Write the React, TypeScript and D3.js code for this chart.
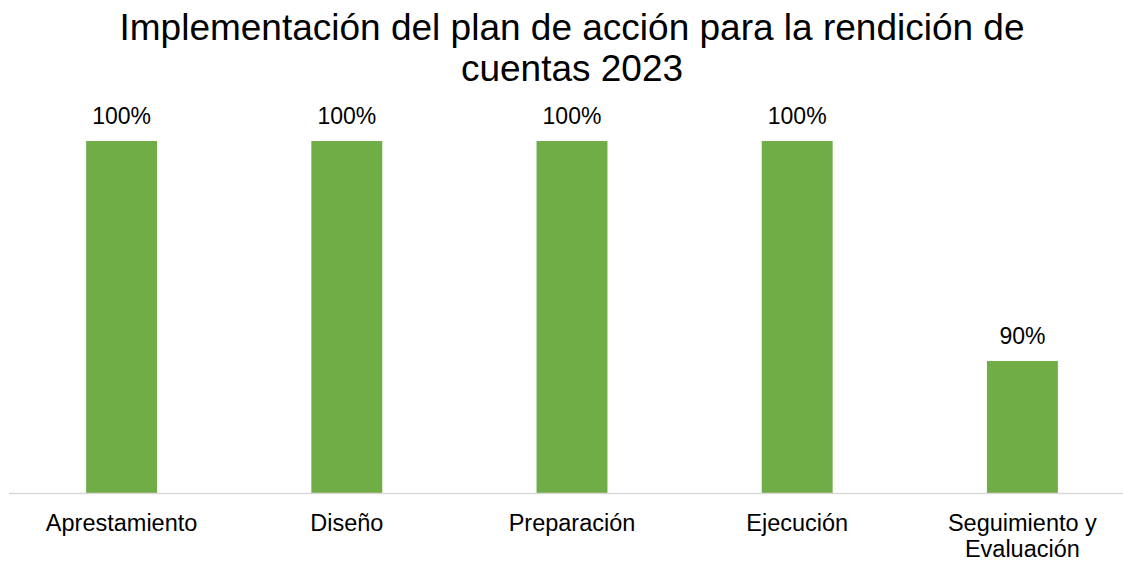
import React from "react";
import * as d3 from "d3";

const categories: string[][] = [
  ["Aprestamiento"],
  ["Diseño"],
  ["Preparación"],
  ["Ejecución"],
  ["Seguimiento y", "Evaluación"],
];
const values: number[] = [1.0, 1.0, 1.0, 1.0, 0.9];
const titleLines: string[] = [
  "Implementación del plan de acción para la rendición de",
  "cuentas 2023",
];

const W = 1123;
const H = 561;
const FONT = "'Liberation Sans', Arial, sans-serif";

export default function App() {
  const keys = categories.map((c) => c.join(" "));
  const x = d3.scaleBand<string>().domain(keys).range([9, 1135]).paddingInner(0.685).paddingOuter(0.3425);
  const y = d3.scaleLinear().domain([0.84, 1.0]).range([493, 141]);
  const fmt = d3.format(".0%");
  return (
    <svg width={W} height={H} style={{ position: "absolute", left: 0, top: 0, background: "#fff" }} fontFamily={FONT}>
      {titleLines.map((t, i) => (
        <text key={i} x={572} y={39.5 + i * 41.5} textAnchor="middle" fontSize={37} fill="#000">
          {t}
        </text>
      ))}
      {values.map((v, i) => (
        <rect key={i} x={x(keys[i])} y={y(v)} width={x.bandwidth()} height={y(0.84) - y(v)} fill="#70AD47" />
      ))}
      <line x1={9} x2={W} y1={493.5} y2={493.5} stroke="#D9D9D9" strokeWidth={1.5} />
      {values.map((v, i) => (
        <text key={"l" + i} x={x(keys[i])! + x.bandwidth() / 2} y={y(v) - 17} textAnchor="middle" fontSize={23} fill="#000">
          {fmt(v)}
        </text>
      ))}
      {categories.map((c, i) =>
        c.map((line, j) => (
          <text key={"c" + i + j} x={x(keys[i])! + x.bandwidth() / 2} y={531 + j * 25.5} textAnchor="middle" fontSize={23.5} fill="#000">
            {line}
          </text>
        ))
      )}
    </svg>
  );
}
